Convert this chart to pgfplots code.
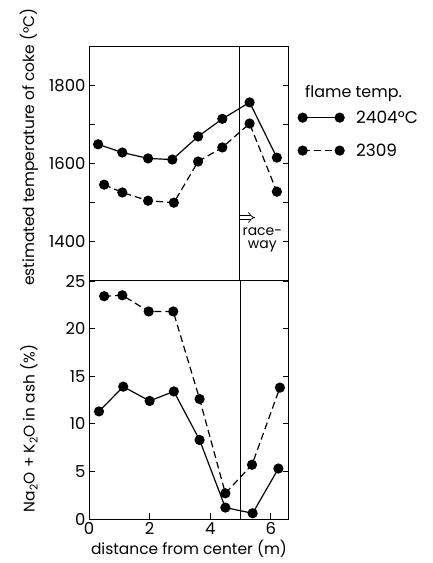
\documentclass[border=0pt]{standalone}
\usepackage{fontspec}
\setmainfont{Poppins}
\usepackage{pgfplots}
\pgfplotsset{compat=1.18}
\usetikzlibrary{arrows.meta}

\begin{document}
\begin{tikzpicture}[x=1bp,y=1bp]
\useasboundingbox (-89bp,-44bp) rectangle (344bp,519bp);
\pgfplotsset{
  common/.style={
    scale only axis, width=200bp, xmin=0, xmax=6.6,
    axis line style={line width=1pt}, tick style={line width=0.8pt, black}, tick align=inside,
    major tick length=6bp,
    /pgf/number format/assume math mode=true,
    ticklabel style={font=\fontsize{16.5}{16.5}\selectfont},
    label style={font=\fontsize{15.5}{15.5}\selectfont},
    clip=false,
  },
  s1/.style={black, line width=1.2pt, mark=*, mark size=4.5pt},
  s2/.style={black, line width=1.2pt, dash pattern=on 7pt off 4pt, mark=*, mark size=4.5pt, mark options={solid}},
}
% bottom panel
\begin{axis}[common, at={(0bp,0bp)}, anchor=south west, height=238bp,
  ymin=0, ymax=25, ytick={0,5,10,15,20,25}, xtick={0,2,4,6}, xtick pos=bottom,
  xlabel={distance from center (m)},
  ylabel={Na\textsubscript{2}O + K\textsubscript{2}O in ash (\%)},
  ylabel style={at={(axis description cs:-0.30,0.38)}, anchor=center},
  xlabel style={at={(axis description cs:0.50,-0.125)}, anchor=center},
]
\addplot[s1] coordinates {(0.33,11.3) (1.13,13.9) (2.0,12.4) (2.8,13.4) (3.65,8.3) (4.5,1.2) (5.4,0.6) (6.25,5.3)};
\addplot[s2] coordinates {(0.5,23.4) (1.1,23.5) (1.97,21.8) (2.78,21.8) (3.65,12.6) (4.5,2.7) (5.38,5.7) (6.3,13.8)};
\draw[line width=0.8pt] (axis cs:5.0,0) -- (axis cs:5.0,25);
\end{axis}
% top panel
\begin{axis}[common, at={(0bp,238bp)}, anchor=south west, height=235bp,
  ymin=1300, ymax=1900, ytick={1400,1500,1600,1700,1800}, yticklabels={1400,,1600,,1800},
  xtick=\empty,
  ylabel={estimated temperature of coke (°C)},
  ylabel style={at={(axis description cs:-0.30,0.57)}, anchor=center},
  legend style={at={(axis description cs:1.03,0.625)}, anchor=west, draw=none, fill=none,
    font=\fontsize{17}{17}\selectfont, row sep=15bp,
    /tikz/every odd column/.append style={column sep=10bp}},
  legend cell align=left,
  legend image code/.code={\draw[#1] plot coordinates {(0bp,0bp) (37bp,0bp)};},
]
\addplot[s1] coordinates {(0.3,1649) (1.1,1628) (1.95,1613) (2.75,1610) (3.6,1669) (4.4,1714) (5.3,1756) (6.2,1615)};
\addlegendentry{2404°C}
\addplot[s2] coordinates {(0.5,1546) (1.1,1526) (1.95,1505) (2.8,1500) (3.6,1605) (4.4,1641) (5.3,1702) (6.2,1528)};
\addlegendentry{2309}
\draw[line width=0.8pt] (axis cs:4.95,1300) -- (axis cs:4.95,1900);
\draw[line width=0.7pt, double distance=3pt, -{Implies}] (axis cs:4.97,1462) -- (axis cs:5.48,1462);
\node[align=center, font=\fontsize{14}{13}\selectfont, inner sep=0pt] at (axis cs:5.72,1405) {race-\\way};
\node[anchor=west, font=\fontsize{16}{16}\selectfont, inner sep=0pt] at (axis description cs:1.08,0.80) {flame temp.};
\end{axis}
\end{tikzpicture}
\end{document}
